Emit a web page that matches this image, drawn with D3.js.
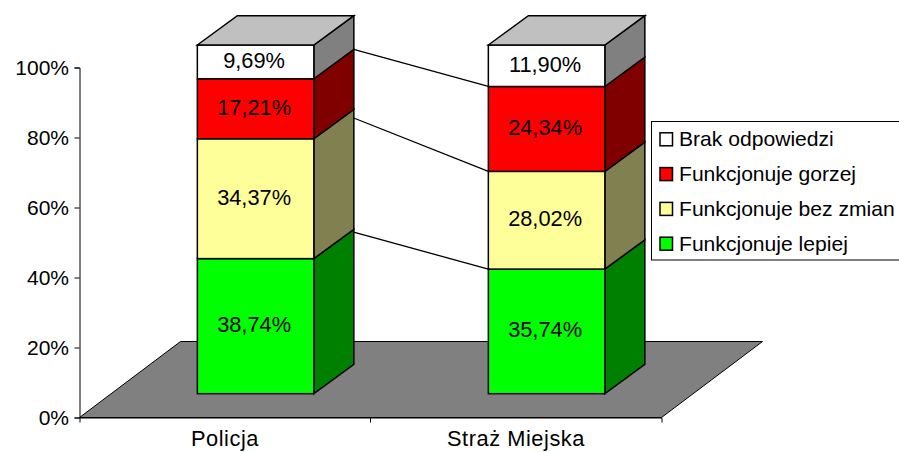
<!DOCTYPE html>
<html><head><meta charset="utf-8">
<script src="https://cdn.jsdelivr.net/npm/d3@7"></script>
<style>html,body{margin:0;padding:0;background:#fff}svg{display:block}text{font-family:"Liberation Sans",Arial,sans-serif;fill:#000}</style>
</head><body><svg id="c" width="899" height="452"></svg>
<script>
const categories = ["Policja", "Straż Miejska"];
const seriesNames = ["Funkcjonuje lepiej", "Funkcjonuje bez zmian", "Funkcjonuje gorzej", "Brak odpowiedzi"];
const policja = [38.74, 34.37, 17.21, 9.69];
const straz = [35.74, 28.02, 24.34, 11.90];
const frontColors = ["#00ff00", "#ffff99", "#ff0000", "#ffffff"];
const sideColors = ["#008000", "#808050", "#800000", "#808080"];
const tickValues = [0, 20, 40, 60, 80, 100];

const svg = d3.select("#c");
const fmt = v => v.toFixed(2).replace(".", ",") + "%";
const ink = "#000";

// layout constants
const axisX = 79.5, axisRight = 661.5, axisBottom = 417.5, axisTop = 67.5;
const depthX = 40, depthY = -29.3, floorX = 101, floorY = -76;
const frontBase = 393.7, frontH = 348.7, barShift = 30.6, barW = 116.5;
const seriesLineDrop = [2.4, 7.8, -0.5];

const x = d3.scaleBand().domain(categories).range([axisX, axisRight]);
const yAxisScale = d3.scaleLinear().domain([0, 100]).range([axisBottom, axisTop]);
const yBar = d3.scaleLinear().domain([0, 100]).range([frontBase, frontBase - frontH]);
const line = d3.line();

// floor
svg.append("path")
  .attr("d", line([[axisX, axisBottom], [axisX + floorX, axisBottom + floorY], [axisRight + floorX, axisBottom + floorY], [axisRight, axisBottom]]) + "Z")
  .attr("fill", "#808080").attr("stroke", ink).attr("stroke-width", 1);

// axes
const gy = svg.append("g").attr("transform", `translate(${axisX},0)`)
  .call(d3.axisLeft(yAxisScale).tickValues(tickValues).tickSize(5).tickPadding(5.5).tickFormat(d => d + "%"));
const gx = svg.append("g").attr("transform", `translate(0,${axisBottom})`)
  .call(d3.axisBottom(x).tickSize(5).tickPadding(10).tickSizeOuter(5));
svg.selectAll("g .domain").attr("stroke", ink);
gy.selectAll("text").attr("font-size", 21).attr("dy", "0.31em");
gx.selectAll("text").attr("font-size", 21.8).attr("letter-spacing", 0.55).attr("dy", "0.63em");
gx.selectAll(".tick line").remove();
gx.selectAll(null).data([x(categories[1])]).enter().append("line")
  .attr("x1", d => d).attr("x2", d => d).attr("y1", 0).attr("y2", 5).attr("stroke", ink);

// series lines
const rows = [policja, straz];
const barLeft = i => x(categories[i]) + (x.bandwidth() - barW) / 2 + barShift;
const cum0 = d3.cumsum(policja), cum1 = d3.cumsum(straz);
[0, 1, 2].forEach(k => {
  svg.append("line")
    .attr("x1", barLeft(0) + barW + depthX - 2).attr("y1", yBar(cum0[k]) + depthY + seriesLineDrop[k])
    .attr("x2", barLeft(1)).attr("y2", yBar(cum1[k]))
    .attr("stroke", ink).attr("stroke-width", 1.3);
});

// bars
rows.forEach((vals, i) => {
  const cum = d3.cumsum(vals);
  const g = svg.append("g");
  const bx = barLeft(i);
  vals.forEach((v, k) => {
    const y0 = yBar(k ? cum[k - 1] : 0), y1 = Math.max(yBar(cum[k]), frontBase - frontH);
    g.append("path").attr("d", line([[bx + barW, y0], [bx + barW + depthX, y0 + depthY], [bx + barW + depthX, y1 + depthY], [bx + barW, y1]]) + "Z")
      .attr("fill", sideColors[k]).attr("stroke", ink).attr("stroke-width", 1.5);
    g.append("rect").attr("x", bx).attr("y", y1).attr("width", barW).attr("height", y0 - y1)
      .attr("fill", frontColors[k]).attr("stroke", ink).attr("stroke-width", 1.5);
    g.append("text").attr("x", bx + barW / 2 - 1.5).attr("y", (y0 + y1) / 2 + 6)
      .attr("text-anchor", "middle").attr("font-size", 21.8).text(fmt(v));
  });
  const top = frontBase - frontH;
  g.append("path").attr("d", line([[bx, top], [bx + depthX, top + depthY], [bx + barW + depthX, top + depthY], [bx + barW, top]]) + "Z")
    .attr("fill", "#c0c0c0").attr("stroke", ink).attr("stroke-width", 1.5);
});

// legend
const lx = 651.5, ly = 121.5, lw = 260, lh = 138.5;
svg.append("rect").attr("x", lx).attr("y", ly).attr("width", lw).attr("height", lh).attr("fill", "#fff").attr("stroke", ink);
seriesNames.slice().reverse().forEach((name, i) => {
  const k = seriesNames.length - 1 - i;
  const cy = 139.3 + i * 34.8;
  svg.append("rect").attr("x", 660).attr("y", cy - 6.5).attr("width", 12.5).attr("height", 13)
    .attr("fill", frontColors[k]).attr("stroke", ink).attr("stroke-width", 1.5);
  svg.append("text").attr("x", 679).attr("y", cy + 6.8).attr("font-size", 21.1).text(name);
});
</script></body></html>
